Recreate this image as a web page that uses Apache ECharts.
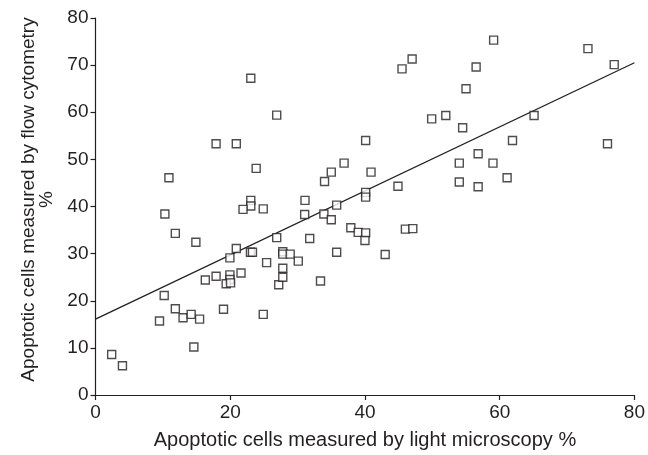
<!DOCTYPE html>
<html>
<head>
<meta charset="utf-8">
<script src="https://cdn.jsdelivr.net/npm/echarts@6/dist/echarts.min.js"></script>
<style>
  html, body { margin: 0; padding: 0; background: #fff; }
  #chart { width: 648px; height: 455px; }
</style>
</head>
<body>
<div id="chart"></div>
<script>
// light microscopy % (x) vs flow cytometry % (y)
const lightPct = [
  23.05, 26.9, 17.9, 20.9, 23.85, 10.9, 23.05, 23.05, 21.9, 24.9,
  10.3, 11.85, 14.9, 26.9, 20.9, 19.95, 23.0, 23.3, 25.4, 27.2,
  16.3, 17.9, 19.95, 19.95, 19.4, 20.05, 21.6, 10.2, 11.85, 9.5,
  13.0, 14.2, 15.45, 19.0, 24.9, 14.6, 2.4, 4.0, 47.0, 45.5,
  55.0, 49.9, 52.0, 54.5, 40.1, 36.9, 35.0, 34.0, 40.9, 54.0,
  54.0, 44.9, 40.1, 40.1, 31.1, 35.8, 31.05, 33.9, 35.0, 31.8,
  37.9, 39.0, 40.1, 40.0, 46.0, 47.1, 27.8, 27.8, 28.9, 30.1,
  35.8, 43.0, 27.8, 27.8, 33.4, 59.1, 73.1, 77.0, 56.5, 65.1,
  61.9, 76.0, 56.8, 59.0, 61.1, 56.8
];
const flowPct = [
  67.2, 59.4, 53.3, 53.3, 48.1, 46.1, 41.3, 40.1, 39.4, 39.5,
  38.4, 34.3, 32.4, 33.4, 31.1, 29.1, 30.3, 30.3, 28.1, 23.4,
  24.4, 25.2, 25.5, 24.5, 23.6, 23.8, 25.9, 21.1, 18.3, 15.7,
  16.4, 17.1, 16.1, 18.2, 17.1, 10.2, 8.6, 6.2, 71.3, 69.2,
  65.0, 58.6, 59.3, 56.7, 54.0, 49.2, 47.3, 45.3, 47.3, 49.2,
  45.2, 44.3, 43.0, 42.0, 41.3, 40.3, 38.3, 38.4, 37.2, 33.2,
  35.5, 34.5, 34.4, 32.8, 35.2, 35.3, 30.4, 29.9, 29.9, 28.4,
  30.3, 29.8, 26.9, 25.0, 24.2, 75.3, 73.5, 70.1, 69.6, 59.3,
  54.0, 53.3, 51.2, 49.2, 46.1, 44.2
];
// fitted regression line end points
const fitX = [0, 80];
const fitY = [16.1, 70.5];

const FONT = "'Liberation Sans', Arial, sans-serif";

const points = lightPct.map((x, i) => [x, flowPct[i]]);
const fitLine = fitX.map((x, i) => [x, fitY[i]]);

const chart = echarts.init(document.getElementById('chart'), null, { renderer: 'canvas' });

const axisCommon = {
  type: 'value',
  min: 0,
  max: 80,
  interval: 20,
  nameLocation: 'middle',
  nameTextStyle: { color: '#231f20', fontFamily: FONT, fontSize: 20 },
  axisLine: { show: true, onZero: false, lineStyle: { color: '#231f20', width: 1.2 } },
  axisTick: { show: true, inside: false, length: 5, lineStyle: { color: '#231f20', width: 1.2 } },
  axisLabel: { color: '#231f20', fontFamily: FONT, fontSize: 19 },
  splitLine: { show: false }
};

chart.setOption({
  animation: false,
  backgroundColor: '#fff',
  grid: { left: 95.5, right: 12, top: 18, bottom: 58.5 },
  xAxis: Object.assign({}, axisCommon, {
    name: 'Apoptotic cells measured by light microscopy %',
    nameGap: 35,
    axisLabel: Object.assign({}, axisCommon.axisLabel, { margin: 8 })
  }),
  yAxis: Object.assign({}, axisCommon, {
    interval: 10,
    name: 'Apoptotic cells measured by flow cytometry\n%',
    nameGap: 39.5,
    nameRotate: 90,
    nameTextStyle: Object.assign({}, axisCommon.nameTextStyle, {
      fontSize: 19, lineHeight: 18, align: 'center', padding: [0, 0, 0, 14]
    }),
    axisLabel: Object.assign({}, axisCommon.axisLabel, { margin: 7 })
  }),
  series: [
    {
      type: 'line',
      data: fitLine,
      symbol: 'none',
      lineStyle: { color: '#231f20', width: 1.3 },
      silent: true,
      z: 1
    },
    {
      type: 'scatter',
      data: points,
      symbol: 'rect',
      symbolSize: 8,
      itemStyle: { color: '#fff', borderColor: '#231f20', borderWidth: 1.4 },
      z: 2
    }
  ]
});
</script>
</body>
</html>
